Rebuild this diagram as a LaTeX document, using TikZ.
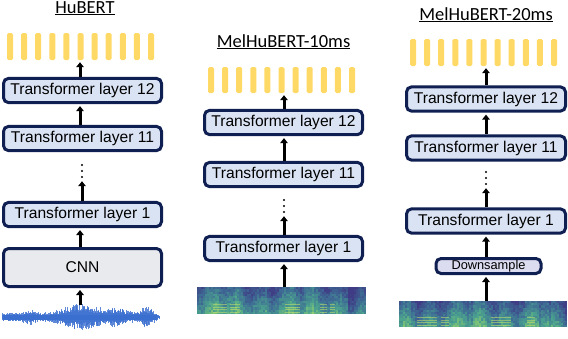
\documentclass[tikz,border=0pt]{standalone}
\usepackage{fontspec}
\setmainfont{Liberation Sans}
\newfontfamily\titlefont{Carlito}
\usetikzlibrary{arrows.meta}
\definecolor{navy}{HTML}{0F1F52}
\definecolor{boxblue}{HTML}{DAE3F3}
\definecolor{cnngray}{HTML}{E9EAEE}
\definecolor{dsfill}{HTML}{DCDCF0}
\definecolor{baryel}{HTML}{FFD966}
\definecolor{wblue}{HTML}{3A6ECF}
\definecolor{vA}{HTML}{3F3C85}
\definecolor{vB}{HTML}{3E6C94}
\definecolor{vC}{HTML}{4BA28E}
\definecolor{vD}{HTML}{93D06E}
\definecolor{vE}{HTML}{C6E06A}
\tikzset{
  tbox/.style={draw=navy, line width=3pt, fill=boxblue, rounded corners=5pt, inner sep=0pt,
    minimum width=158pt, minimum height=24.2pt, font=\fontsize{15.6}{18}\selectfont},
  cnnbox/.style={tbox, fill=cnngray, minimum height=38pt},
  dsbox/.style={tbox, fill=dsfill, minimum width=105pt, minimum height=15pt, font=\fontsize{12.8}{15}\selectfont},
  arr/.style={line width=3pt, -{Triangle[length=5pt,width=7.5pt]}, shorten >=2pt},
  holder/.style={inner sep=0pt, draw=none},
  ttl/.style={anchor=base, font=\titlefont\fontsize{18.5}{21}\selectfont},
  dot/.style={fill=black},
}
\newcommand\drawbars[3]{% x0, ytop, height
  \foreach \i in {0,...,10}
    \fill[baryel, rounded corners=1.5pt] ({#1+\i*14.1},#2) rectangle ++(6,#3);}
\newcommand\specgram[6]{% x0, ytop, width, height, seed, streak list
  \begin{scope}
  \clip (#1,#2) rectangle ++(#3,#4);
  \pgfmathsetseed{#5}
  \pgfmathsetmacro\cwd{#3/84}
  \pgfmathsetmacro\rht{#4/12}
  \pgfmathsetmacro\phA{360*rnd}
  \pgfmathsetmacro\phB{360*rnd}
  \foreach \c in {0,...,83}{
    \pgfmathsetmacro\ec{0.55+0.25*sin(\c*29+\phA)+0.2*sin(\c*9+\phB)+0.12*rand - 0.35*(\c>74)}
    \foreach \r in {0,...,11}{
      \pgfmathsetmacro\vv{max(0,min(0.999, 0.5*\ec + 0.45*\r/11 + 0.12*rand - 0.05))}
      \pgfmathtruncatemacro\sgm{int(\vv*3)}
      \pgfmathtruncatemacro\pcv{100*(\vv*3-\sgm)}
      \ifcase\sgm \def\spc{vB!\pcv!vA}\or \def\spc{vC!\pcv!vB}\or \def\spc{vD!\pcv!vC}\else \def\spc{vD}\fi
      \fill[\spc] ({#1+\c*\cwd},{#2+\r*\rht}) rectangle ++({\cwd+0.3},{\rht+0.3});
    }
  }
  \foreach \sa/\sb in {#6}
    \foreach \k in {0,...,3}
      \draw[vE, line width=0.8pt, opacity=0.55] ({#1+\sa},{#2+#4-2-\k*2.5}) -- ({#1+\sb},{#2+#4-2-\k*2.5});
  \end{scope}}
\begin{document}
\begin{tikzpicture}[x=1pt,y=-1pt]
\useasboundingbox (0,0) rectangle (568,338);

% ---------------- HuBERT ----------------
\node[ttl] (t1) at (85,13) {\underline{HuBERT}};
\node[holder, minimum width=146pt, minimum height=27pt] (bars1) at (80,46.5) {};
\drawbars{7}{33}{27}
\node[tbox] (b12) at (82.5,90.5) {Transformer layer 12};
\node[tbox] (b11) at (82.5,138.5) {Transformer layer 11};
\node[holder, minimum width=4pt, minimum height=16pt] (dots1) at (82,171) {};
\foreach \yy in {165,171,177} \fill[dot] (82,\yy) circle (1.2);
\node[tbox] (b1) at (82.5,214.5) {Transformer layer 1};
\node[cnnbox] (cnn) at (82.5,267.5) {CNN};
\node[holder, minimum width=158pt, minimum height=26pt] (wave) at (82,317) {};
\pgfmathsetseed{7}
\foreach \i in {0,...,315}{
  \pgfmathsetmacro\xx{2+\i*0.5}
  \pgfmathsetmacro\en{4.5 + 4*exp(-((\xx-30)/6)^2) + 9*exp(-((\xx-80)/20)^2) + 5*exp(-((\xx-115)/16)^2) + 6*exp(-((\xx-146)/7)^2) - 3.5*exp(-((\xx-161)/4)^2)}
  \pgfmathsetmacro\ua{\en*(0.4+0.6*rnd^1.5)}
  \pgfmathsetmacro\da{\en*(0.4+0.6*rnd^1.5)}
  \draw[wblue, line width=0.6pt, opacity=0.8] (\xx,{317-\ua}) -- (\xx,{317+\da});
}
\fill[wblue] (3,314.5) rectangle (157,319.5);
\draw[arr] (b12.north -| bars1.south) -- (bars1.south);
\draw[arr] (b11.north -| bars1.south) -- (b12.south -| bars1.south);
\draw[arr] (b1.north -| dots1.south) -- (dots1.south);
\draw[arr] (cnn.north -| bars1.south) -- (b1.south -| bars1.south);
\draw[arr, shorten <=-1pt] (wave.north -| bars1.south) -- (cnn.south -| bars1.south);

% ---------------- MelHuBERT-10ms ----------------
\node[ttl] (t2) at (283.5,47) {\underline{MelHuBERT-10ms}};
\node[holder, minimum width=147pt, minimum height=26pt] (bars2) at (284,80) {};
\drawbars{208}{67}{26}
\node[tbox] (m12) at (283.5,122.5) {Transformer layer 12};
\node[tbox] (m11) at (283.5,174.5) {Transformer layer 11};
\node[holder, minimum width=4pt, minimum height=16pt] (dots2) at (284,206) {};
\foreach \yy in {200,206,212} \fill[dot] (284,\yy) circle (1.2);
\node[tbox] (m1) at (283.5,248.5) {Transformer layer 1};
\node[holder, minimum width=169pt, minimum height=27pt] (spec2) at (281.5,300.5) {};
\specgram{197}{287}{169}{27}{11}{16/30,33/43,88/103,123/130,133/138}
\draw[arr] (m12.north -| bars2.south) -- (bars2.south);
\draw[arr] (m11.north -| bars2.south) -- (m12.south -| bars2.south);
\draw[arr] (m1.north -| dots2.south) -- (dots2.south);
\draw[arr] (spec2.north -| bars2.south) -- (m1.south -| bars2.south);

% ---------------- MelHuBERT-20ms ----------------
\node[ttl] (t3) at (486,20) {\underline{MelHuBERT-20ms}};
\node[holder, minimum width=147pt, minimum height=27pt] (bars3) at (486,52.5) {};
\drawbars{410}{39}{27}
\node[tbox, minimum width=159pt] (n12) at (486,99) {Transformer layer 12};
\node[tbox, minimum width=159pt] (n11) at (486,148) {Transformer layer 11};
\node[holder, minimum width=4pt, minimum height=16pt] (dots3) at (486,178) {};
\foreach \yy in {172,178,184} \fill[dot] (486,\yy) circle (1.2);
\node[tbox, minimum width=159pt] (n1) at (486,221) {Transformer layer 1};
\node[dsbox] (ds) at (488.5,266) {Downsample};
\node[holder, minimum width=168pt, minimum height=26pt] (spec3) at (483,314) {};
\specgram{399}{301}{168}{26}{23}{18/38,42/50,92/112,128/136}
\draw[arr] (n12.north -| bars3.south) -- (bars3.south);
\draw[arr] (n11.north -| bars3.south) -- (n12.south -| bars3.south);
\draw[arr] (n1.north -| dots3.south) -- (dots3.south);
\draw[arr] (ds.north -| bars3.south) -- (n1.south -| bars3.south);
\draw[arr] (spec3.north -| bars3.south) -- (ds.south -| bars3.south);
\end{tikzpicture}
\end{document}
